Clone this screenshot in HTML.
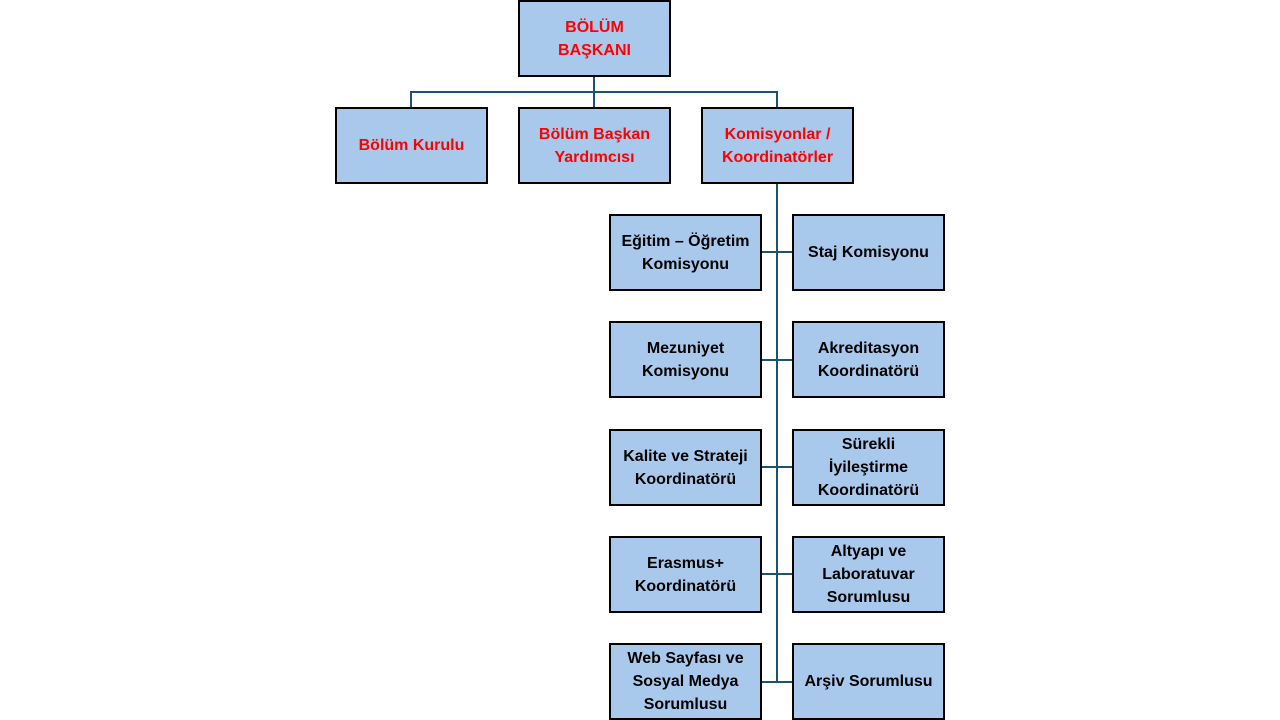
<!DOCTYPE html>
<html><head><meta charset="utf-8"><style>
body{margin:0;width:1280px;height:720px;background:#fff;position:relative;overflow:hidden;font-family:"Liberation Sans",sans-serif}
.b{position:absolute;box-sizing:border-box;width:153px;height:77px;background:#a8c9ec;border:2px solid #000;display:flex;align-items:center;justify-content:center;text-align:center;font-weight:bold;font-size:16px;line-height:23px;white-space:nowrap;color:#000}
.r{color:#f00}
.l{position:absolute;background:#1a5470}
</style></head><body>
<div class="l" style="left:593px;top:76px;width:2px;height:31px"></div>
<div class="l" style="left:410px;top:91px;width:368px;height:2px"></div>
<div class="l" style="left:410px;top:91px;width:2px;height:16px"></div>
<div class="l" style="left:776px;top:91px;width:2px;height:16px"></div>
<div class="l" style="left:776px;top:183px;width:2px;height:500px"></div>
<div class="l" style="left:761px;top:251px;width:31px;height:2px"></div>
<div class="l" style="left:761px;top:359px;width:31px;height:2px"></div>
<div class="l" style="left:761px;top:466px;width:31px;height:2px"></div>
<div class="l" style="left:761px;top:573px;width:31px;height:2px"></div>
<div class="l" style="left:761px;top:681px;width:31px;height:2px"></div>

<div class="b r" style="left:518px;top:0px;">BÖLÜM<br>BAŞKANI</div>
<div class="b r" style="left:335px;top:107px;">Bölüm Kurulu</div>
<div class="b r" style="left:518px;top:107px;">Bölüm Başkan<br>Yardımcısı</div>
<div class="b r" style="left:701px;top:107px;">Komisyonlar /<br>Koordinatörler</div>

<div class="b" style="left:609px;top:214px;">Eğitim – Öğretim<br>Komisyonu</div>
<div class="b" style="left:792px;top:214px;">Staj Komisyonu</div>
<div class="b" style="left:609px;top:321px;">Mezuniyet<br>Komisyonu</div>
<div class="b" style="left:792px;top:321px;">Akreditasyon<br>Koordinatörü</div>
<div class="b" style="left:609px;top:429px;">Kalite ve Strateji<br>Koordinatörü</div>
<div class="b" style="left:792px;top:429px;">Sürekli<br>İyileştirme<br>Koordinatörü</div>
<div class="b" style="left:609px;top:536px;">Erasmus+<br>Koordinatörü</div>
<div class="b" style="left:792px;top:536px;">Altyapı ve<br>Laboratuvar<br>Sorumlusu</div>
<div class="b" style="left:609px;top:643px;">Web Sayfası ve<br>Sosyal Medya<br>Sorumlusu</div>
<div class="b" style="left:792px;top:643px;">Arşiv Sorumlusu</div>
</body></html>
